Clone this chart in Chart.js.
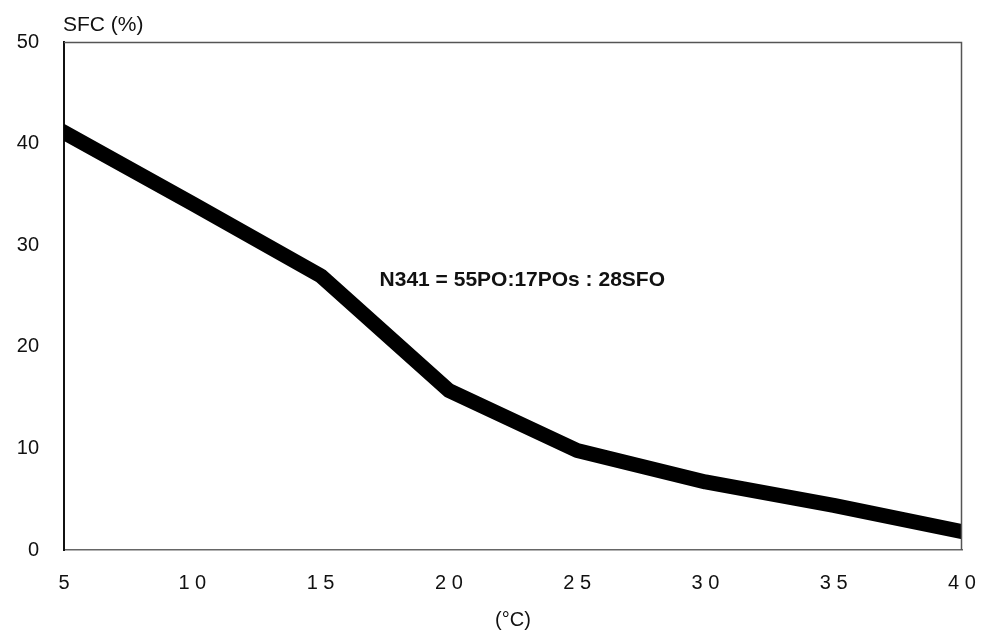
<!DOCTYPE html>
<html>
<head>
<meta charset="utf-8">
<script src="https://cdn.jsdelivr.net/npm/chart.js@4/dist/chart.umd.min.js"></script>
<style>
html,body{margin:0;padding:0;background:#fff;}
#wrap{width:991px;height:634px;position:relative;}
</style>
</head>
<body>
<div id="wrap"><canvas id="c" width="991" height="634"></canvas></div>
<script>
const temperatures = [5, 10, 15, 20, 25, 30, 35, 40];
const sfcValues = [41.1, 34.1, 27.0, 15.7, 9.8, 6.7, 4.4, 1.8];
const xTickLabels = ["5", "1 0", "1 5", "2 0", "2 5", "3 0", "3 5", "4 0"];
const yTickLabels = ["0", "10", "20", "30", "40", "50"];
const yAxisTitle = "SFC (%)";
const xAxisTitle = "(\u00B0C)";
const annotationText = "N341 = 55PO:17POs : 28SFO";
const annotationPos = { x: 17.3, y: 26.6 };

const FONT = 'Liberation Sans, Arial, sans-serif';

const frameAndText = {
  id: 'frameAndText',
  afterDraw(chart) {
    const { ctx, chartArea: a, scales } = chart;
    ctx.save();
    ctx.strokeStyle = '#555';
    ctx.lineWidth = 1.5;
    ctx.beginPath();
    ctx.moveTo(a.left, a.top + 0.5);
    ctx.lineTo(a.right - 0.5, a.top + 0.5);
    ctx.lineTo(a.right - 0.5, a.bottom);
    ctx.stroke();
    ctx.fillStyle = '#111';
    ctx.font = '21px ' + FONT;
    ctx.textAlign = 'left';
    ctx.textBaseline = 'middle';
    ctx.fillText(yAxisTitle, a.left - 1, 25);
    ctx.font = 'bold 21px ' + FONT;
    ctx.fillText(annotationText, scales.x.getPixelForValue(annotationPos.x), scales.y.getPixelForValue(annotationPos.y));
    ctx.restore();
  }
};

new Chart(document.getElementById('c'), {
  type: 'line',
  data: {
    datasets: [{
      data: temperatures.map((t, i) => ({ x: t, y: sfcValues[i] })),
      borderColor: '#000',
      borderWidth: 15,
      borderJoinStyle: 'round',
      borderCapStyle: 'square',
      pointRadius: 0,
      tension: 0,
      fill: false,
      clip: { left: 0, right: 0, top: 20, bottom: 20 }
    }]
  },
  options: {
    responsive: false,
    animation: false,
    layout: { padding: { top: 42, right: 29, left: 0, bottom: 0 } },
    plugins: { legend: { display: false }, tooltip: { enabled: false } },
    scales: {
      x: {
        type: 'linear',
        min: 5, max: 40,
        grid: { display: false, drawTicks: false },
        border: { display: true, color: '#666', width: 1.5 },
        ticks: {
          stepSize: 5,
          padding: 21,
          color: '#111',
          font: { size: 20, family: FONT },
          callback: (v) => xTickLabels[temperatures.indexOf(v)] ?? ''
        },
        title: {
          display: true,
          text: xAxisTitle,
          color: '#111',
          font: { size: 20, family: FONT },
          padding: { top: 0, bottom: 2 }
        },
        afterFit: (s) => { s.height = 84; s.paddingLeft = 0; s.paddingRight = 0; }
      },
      y: {
        min: 0, max: 50,
        grid: { display: false, drawTicks: false },
        border: { display: true, color: '#111', width: 2 },
        ticks: {
          stepSize: 10,
          padding: 25,
          color: '#111',
          font: { size: 20, family: FONT },
          callback: (v) => yTickLabels[v / 10] ?? ''
        },
        afterFit: (s) => { s.width = 64; s.paddingTop = 0; s.paddingBottom = 0; }
      }
    }
  },
  plugins: [frameAndText]
});
</script>
</body>
</html>
